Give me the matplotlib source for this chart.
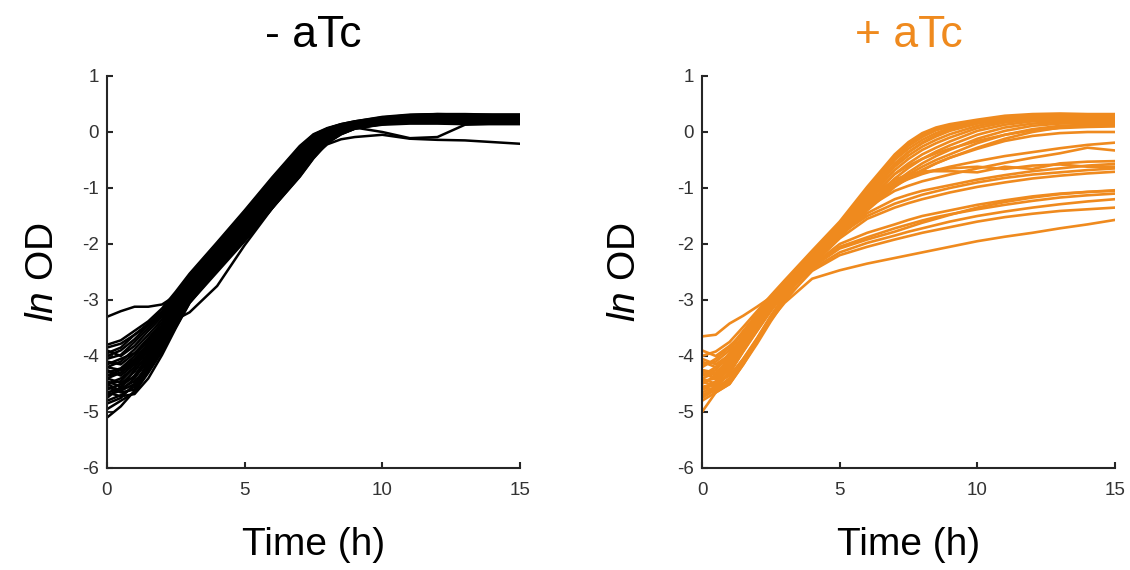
import matplotlib
matplotlib.use("Agg")
import matplotlib.pyplot as plt

plt.rcParams['font.family'] = ['Liberation Sans', 'DejaVu Sans']
plt.rcParams['mathtext.fontset'] = 'custom'
plt.rcParams['mathtext.it'] = 'Liberation Sans:italic'
plt.rcParams['mathtext.rm'] = 'Liberation Sans'
plt.rcParams['axes.unicode_minus'] = False

# ---------------- data ----------------
time_h = [0, 0.5, 1, 1.5, 2, 2.5, 3, 4, 5, 6, 7, 7.5, 8, 8.5, 9, 10, 11, 12, 13, 14, 15]

x_ticks = [0, 5, 10, 15]
y_ticks = [-6, -5, -4, -3, -2, -1, 0, 1]
titles = ["- aTc", "+ aTc"]
x_label = "Time (h)"
y_label = r"$\mathit{ln}$ OD"

# - aTc (black) ln OD curves
minus_atc = [
    [-3.80, -3.72, -3.55, -3.38, -3.15, -2.85, -2.53, -1.97, -1.40, -0.81, -0.25, -0.04, 0.07, 0.14, 0.19, 0.26, 0.30, 0.31, 0.30, 0.30, 0.30],
    [-3.95, -3.85, -3.62, -3.42, -3.20, -2.90, -2.56, -2.00, -1.43, -0.84, -0.28, -0.06, 0.06, 0.13, 0.18, 0.25, 0.29, 0.30, 0.30, 0.29, 0.29],
    [-4.05, -3.98, -3.75, -3.50, -3.25, -2.93, -2.59, -2.03, -1.46, -0.87, -0.31, -0.08, 0.05, 0.12, 0.18, 0.25, 0.28, 0.29, 0.28, 0.28, 0.28],
    [-3.90, -4.00, -3.82, -3.55, -3.30, -2.97, -2.62, -2.06, -1.49, -0.90, -0.34, -0.10, 0.04, 0.12, 0.17, 0.24, 0.28, 0.29, 0.28, 0.27, 0.27],
    [-4.20, -4.10, -3.88, -3.62, -3.35, -3.00, -2.65, -2.09, -1.52, -0.93, -0.37, -0.12, 0.03, 0.11, 0.16, 0.23, 0.27, 0.28, 0.27, 0.27, 0.26],
    [-4.10, -4.15, -3.95, -3.68, -3.40, -3.04, -2.68, -2.12, -1.55, -0.96, -0.40, -0.15, 0.02, 0.10, 0.16, 0.23, 0.26, 0.27, 0.26, 0.26, 0.25],
    [-4.30, -4.22, -4.00, -3.72, -3.45, -3.08, -2.71, -2.15, -1.58, -0.99, -0.43, -0.17, 0.01, 0.09, 0.15, 0.22, 0.26, 0.27, 0.26, 0.25, 0.25],
    [-4.40, -4.30, -4.08, -3.80, -3.50, -3.12, -2.74, -2.18, -1.61, -1.02, -0.46, -0.19, 0.00, 0.08, 0.14, 0.22, 0.25, 0.26, 0.25, 0.24, 0.24],
    [-4.25, -4.35, -4.15, -3.85, -3.55, -3.16, -2.77, -2.21, -1.64, -1.05, -0.49, -0.21, -0.01, 0.08, 0.14, 0.21, 0.25, 0.26, 0.25, 0.24, 0.23],
    [-4.50, -4.45, -4.20, -3.90, -3.58, -3.19, -2.80, -2.24, -1.67, -1.08, -0.52, -0.23, -0.02, 0.07, 0.13, 0.21, 0.24, 0.25, 0.24, 0.23, 0.23],
    [-4.60, -4.50, -4.28, -3.95, -3.62, -3.22, -2.83, -2.27, -1.70, -1.11, -0.55, -0.26, -0.04, 0.06, 0.12, 0.20, 0.24, 0.25, 0.24, 0.23, 0.22],
    [-4.45, -4.55, -4.35, -4.00, -3.66, -3.25, -2.86, -2.30, -1.73, -1.14, -0.58, -0.28, -0.05, 0.05, 0.12, 0.20, 0.23, 0.24, 0.23, 0.22, 0.22],
    [-4.70, -4.62, -4.40, -4.05, -3.70, -3.28, -2.89, -2.33, -1.76, -1.17, -0.61, -0.31, -0.07, 0.04, 0.11, 0.19, 0.23, 0.24, 0.23, 0.22, 0.21],
    [-4.80, -4.70, -4.55, -4.15, -3.75, -3.32, -2.92, -2.36, -1.79, -1.20, -0.64, -0.33, -0.09, 0.03, 0.10, 0.19, 0.22, 0.23, 0.22, 0.21, 0.21],
    [-4.55, -4.65, -4.60, -4.20, -3.80, -3.36, -2.95, -2.39, -1.82, -1.23, -0.67, -0.36, -0.11, 0.02, 0.10, 0.18, 0.22, 0.23, 0.22, 0.21, 0.20],
    [-5.10, -4.90, -4.62, -4.25, -3.85, -3.40, -2.98, -2.42, -1.85, -1.26, -0.70, -0.38, -0.13, 0.01, 0.09, 0.18, 0.21, 0.22, 0.21, 0.20, 0.19],
    [-4.95, -4.80, -4.65, -4.30, -3.92, -3.45, -3.01, -2.45, -1.88, -1.29, -0.73, -0.41, -0.15, -0.01, 0.08, 0.15, 0.17, 0.17, 0.16, 0.15, 0.15],
    [-4.65, -4.72, -4.68, -4.40, -3.98, -3.50, -3.05, -2.47, -1.90, -1.31, -0.75, -0.43, -0.17, -0.02, 0.07, 0.13, 0.15, 0.15, 0.14, 0.14, 0.14],
    [-4.00, -3.90, -3.70, -3.45, -3.22, -2.88, -2.55, -1.99, -1.42, -0.83, -0.27, -0.05, 0.06, 0.14, 0.19, 0.27, 0.31, 0.32, 0.31, 0.31, 0.31],
    [-4.35, -4.30, -4.12, -3.88, -3.60, -3.25, -2.85, -2.26, -1.69, -1.10, -0.54, -0.25, -0.04, 0.06, 0.13, 0.21, 0.25, 0.26, 0.25, 0.25, 0.24],
    [-4.65, -4.58, -4.45, -4.20, -3.88, -3.48, -3.05, -2.50, -1.95, -1.36, -0.80, -0.47, -0.20, -0.04, 0.06, 0.15, 0.19, 0.20, 0.19, 0.18, 0.17],
    [-4.20, -4.25, -4.10, -3.80, -3.52, -3.18, -2.80, -2.22, -1.64, -1.04, -0.47, -0.20, -0.01, 0.08, 0.14, 0.22, 0.26, 0.27, 0.27, 0.26, 0.26],
    [-4.85, -4.75, -4.50, -4.22, -3.90, -3.46, -3.02, -2.46, -1.92, -1.33, -0.77, -0.45, -0.18, -0.03, 0.06, 0.14, 0.18, 0.19, 0.18, 0.17, 0.17],
    [-3.85, -3.78, -3.62, -3.45, -3.28, -3.00, -2.66, -2.10, -1.53, -0.94, -0.38, -0.13, 0.03, 0.11, 0.17, 0.25, 0.30, 0.32, 0.32, 0.31, 0.31],
    [-4.50, -4.62, -4.50, -4.12, -3.72, -3.30, -2.90, -2.34, -1.78, -1.19, -0.63, -0.33, -0.09, 0.03, 0.11, 0.19, 0.22, 0.23, 0.22, 0.21, 0.21],
    [-4.15, -4.05, -3.95, -3.75, -3.46, -3.10, -2.72, -2.14, -1.57, -0.98, -0.42, -0.16, 0.02, 0.10, 0.16, 0.24, 0.28, 0.29, 0.28, 0.28, 0.28],
    [-4.75, -4.55, -4.25, -3.98, -3.68, -3.30, -2.93, -2.37, -1.81, -1.22, -0.66, -0.35, -0.10, 0.03, 0.10, 0.18, 0.21, 0.22, 0.21, 0.20, 0.20],
    [-4.40, -4.48, -4.38, -4.10, -3.76, -3.38, -2.98, -2.43, -1.93, -1.36, -0.79, -0.46, -0.19, -0.04, 0.06, 0.15, 0.18, 0.19, 0.18, 0.17, 0.16],
    [-3.30, -3.20, -3.12, -3.12, -3.08, -2.92, -2.60, -2.04, -1.47, -0.88, -0.32, -0.09, 0.05, 0.12, 0.17, 0.24, 0.27, 0.28, 0.28, 0.27, 0.27],
    [-4.50, -4.40, -4.20, -3.90, -3.55, -3.35, -3.22, -2.75, -2.02, -1.36, -0.72, -0.42, -0.16, 0.00, 0.08, 0.00, -0.11, -0.09, 0.13, 0.15, 0.16],
    [-4.35, -4.25, -4.05, -3.78, -3.48, -3.14, -2.80, -2.27, -1.75, -1.20, -0.68, -0.43, -0.22, -0.13, -0.09, -0.05, -0.12, -0.14, -0.15, -0.18, -0.21],
]

# + aTc (orange) ln OD curves
plus_atc = [
    [-4.00, -3.92, -3.75, -3.48, -3.20, -2.92, -2.65, -2.12, -1.60, -0.98, -0.40, -0.18, -0.02, 0.08, 0.14, 0.22, 0.29, 0.32, 0.33, 0.32, 0.32],
    [-4.20, -4.05, -3.85, -3.55, -3.25, -2.95, -2.68, -2.15, -1.63, -1.02, -0.45, -0.22, -0.06, 0.05, 0.12, 0.20, 0.27, 0.30, 0.31, 0.30, 0.30],
    [-3.90, -4.00, -3.82, -3.60, -3.30, -3.00, -2.72, -2.18, -1.66, -1.06, -0.50, -0.30, -0.14, -0.02, 0.07, 0.18, 0.25, 0.28, 0.29, 0.29, 0.28],
    [-4.35, -4.25, -3.95, -3.65, -3.34, -3.03, -2.75, -2.21, -1.69, -1.10, -0.56, -0.36, -0.20, -0.08, 0.02, 0.15, 0.23, 0.26, 0.27, 0.27, 0.26],
    [-4.50, -4.35, -4.10, -3.75, -3.45, -3.12, -2.80, -2.24, -1.72, -1.14, -0.62, -0.42, -0.26, -0.14, -0.04, 0.11, 0.20, 0.24, 0.25, 0.25, 0.24],
    [-4.10, -4.20, -4.05, -3.70, -3.38, -3.05, -2.77, -2.25, -1.74, -1.18, -0.68, -0.48, -0.32, -0.20, -0.10, 0.07, 0.17, 0.22, 0.23, 0.22, 0.22],
    [-4.60, -4.45, -4.25, -3.90, -3.55, -3.20, -2.85, -2.27, -1.77, -1.24, -0.75, -0.56, -0.40, -0.28, -0.17, 0.02, 0.13, 0.19, 0.21, 0.20, 0.20],
    [-4.30, -4.40, -4.20, -3.82, -3.48, -3.12, -2.82, -2.29, -1.80, -1.30, -0.83, -0.64, -0.48, -0.35, -0.24, -0.05, 0.08, 0.15, 0.18, 0.18, 0.18],
    [-4.70, -4.60, -4.40, -4.05, -3.68, -3.28, -2.92, -2.31, -1.82, -1.34, -0.90, -0.72, -0.56, -0.43, -0.32, -0.12, 0.02, 0.11, 0.15, 0.16, 0.16],
    [-4.45, -4.55, -4.30, -3.90, -3.52, -3.14, -2.84, -2.30, -1.81, -1.33, -0.92, -0.76, -0.62, -0.50, -0.40, -0.20, -0.05, 0.05, 0.11, 0.13, 0.14],
    [-4.15, -4.10, -3.90, -3.58, -3.28, -2.98, -2.70, -2.17, -1.65, -1.04, -0.47, -0.25, -0.09, 0.03, 0.10, 0.19, 0.25, 0.28, 0.29, 0.28, 0.27],
    [-4.80, -4.65, -4.50, -4.15, -3.75, -3.35, -2.96, -2.33, -1.84, -1.36, -0.96, -0.82, -0.68, -0.56, -0.46, -0.28, -0.12, 0.00, 0.08, 0.11, 0.12],
    [-3.65, -3.62, -3.42, -3.28, -3.12, -2.95, -2.70, -2.18, -1.68, -1.12, -0.58, -0.36, -0.19, -0.06, 0.04, 0.16, 0.22, 0.25, 0.26, 0.26, 0.25],
    [-5.00, -4.65, -4.45, -4.10, -3.72, -3.32, -2.95, -2.36, -1.88, -1.40, -0.98, -0.82, -0.68, -0.56, -0.46, -0.30, -0.16, -0.07, -0.02, 0.00, 0.00],
    [-4.25, -4.30, -4.10, -3.75, -3.42, -3.08, -2.80, -2.27, -1.76, -1.22, -0.75, -0.60, -0.48, -0.38, -0.30, -0.16, -0.05, 0.03, 0.07, 0.09, 0.10],
    [-4.40, -4.30, -4.05, -3.72, -3.40, -3.08, -2.80, -2.28, -1.78, -1.28, -0.95, -0.84, -0.75, -0.68, -0.62, -0.52, -0.43, -0.36, -0.29, -0.23, -0.19],
    [-4.55, -4.50, -4.20, -3.80, -3.48, -3.13, -2.84, -2.32, -1.82, -1.35, -1.05, -0.96, -0.88, -0.82, -0.76, -0.65, -0.55, -0.46, -0.38, -0.28, -0.33],
    [-4.05, -4.15, -3.98, -3.65, -3.35, -3.03, -2.76, -2.24, -1.74, -1.20, -0.85, -0.76, -0.70, -0.70, -0.70, -0.72, -0.62, -0.66, -0.56, -0.53, -0.52],
    [-4.65, -4.55, -4.30, -3.90, -3.52, -3.16, -2.86, -2.34, -1.85, -1.45, -1.20, -1.12, -1.05, -1.00, -0.95, -0.85, -0.77, -0.70, -0.65, -0.60, -0.57],
    [-4.25, -4.35, -4.15, -3.80, -3.46, -3.10, -2.83, -2.31, -1.83, -1.50, -1.28, -1.20, -1.12, -1.06, -1.00, -0.90, -0.82, -0.76, -0.72, -0.68, -0.65],
    [-4.75, -4.60, -4.45, -4.10, -3.70, -3.30, -2.95, -2.38, -1.90, -1.55, -1.35, -1.27, -1.20, -1.14, -1.08, -0.98, -0.90, -0.83, -0.78, -0.74, -0.71],
    [-4.35, -4.20, -4.00, -3.68, -3.38, -3.06, -2.78, -2.26, -1.76, -1.25, -0.90, -0.80, -0.72, -0.68, -0.65, -0.62, -0.66, -0.60, -0.58, -0.62, -0.62],
    [-4.45, -4.40, -4.18, -3.85, -3.50, -3.15, -2.88, -2.38, -2.00, -1.80, -1.65, -1.57, -1.50, -1.45, -1.40, -1.30, -1.22, -1.15, -1.10, -1.07, -1.05],
    [-4.60, -4.50, -4.30, -3.92, -3.55, -3.18, -2.90, -2.42, -2.08, -1.92, -1.78, -1.70, -1.62, -1.55, -1.48, -1.35, -1.25, -1.17, -1.11, -1.07, -1.04],
    [-4.30, -4.40, -4.20, -3.88, -3.52, -3.16, -2.89, -2.40, -2.05, -1.88, -1.72, -1.65, -1.58, -1.52, -1.47, -1.38, -1.30, -1.23, -1.17, -1.13, -1.10],
    [-4.55, -4.65, -4.50, -4.15, -3.78, -3.38, -3.02, -2.45, -2.15, -1.98, -1.85, -1.78, -1.72, -1.66, -1.60, -1.50, -1.42, -1.35, -1.29, -1.24, -1.20],
    [-4.70, -4.58, -4.40, -4.08, -3.72, -3.32, -3.00, -2.48, -2.20, -2.05, -1.92, -1.86, -1.80, -1.75, -1.70, -1.60, -1.52, -1.46, -1.41, -1.38, -1.35],
    [-4.40, -4.50, -4.35, -4.05, -3.70, -3.35, -3.05, -2.62, -2.47, -2.35, -2.25, -2.20, -2.15, -2.10, -2.05, -1.95, -1.87, -1.80, -1.72, -1.65, -1.57],
]

colors = ["#000000", "#EF8A1E"]
title_colors = ["#000000", "#EF8A1E"]

# ---------------- figure ----------------
fig = plt.figure(figsize=(11.3, 5.7), dpi=100)
W, H = 1130.0, 570.0
ax_left = fig.add_axes([107 / W, 102 / H, 413 / W, 392 / H])
ax_right = fig.add_axes([702 / W, 102 / H, 413 / W, 392 / H])

for ax, curves, col, ttl, tcol, lw, ypad in [
    (ax_left, minus_atc, colors[0], titles[0], title_colors[0], 1.8, 15),
    (ax_right, plus_atc, colors[1], titles[1], title_colors[1], 1.9, 24),
]:
    for c in curves:
        ax.plot(time_h, c, color=col, lw=lw, solid_joinstyle='round', solid_capstyle='round')
    ax.set_xlim(0, 15)
    ax.set_ylim(-6, 1)
    ax.set_xticks(x_ticks)
    ax.set_yticks(y_ticks)
    ax.spines['top'].set_visible(False)
    ax.spines['right'].set_visible(False)
    for s in ('left', 'bottom'):
        ax.spines[s].set_linewidth(1.5)
        ax.spines[s].set_color('#262626')
    ax.tick_params(direction='in', length=4, width=1.5, color='#262626',
                   labelsize=13.5, labelcolor='#333333')
    ax.tick_params(axis='x', pad=10)
    ax.tick_params(axis='y', pad=6)
    ax.set_title(ttl, color=tcol, fontsize=32, pad=21)
    ax.set_xlabel(x_label, fontsize=28, labelpad=20)
    ax.set_ylabel(y_label, fontsize=28, labelpad=ypad)

fig.savefig("out.png", dpi=100, facecolor='white')
